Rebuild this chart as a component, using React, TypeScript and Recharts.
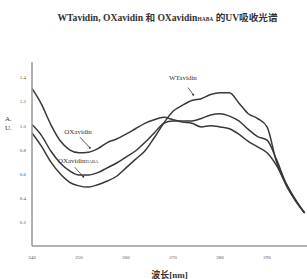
import React from 'react';
import { LineChart, Line, XAxis, YAxis, ReferenceLine, ReferenceDot, Label } from 'recharts';

const wavelengths = [240,242,244,246,248,250,252,254,256,258,260,262,264,266,268,270,272,274,276,278,280,282,284,286,288,290,292,294,296,298];
const wtAvidin = [0.94,0.83,0.70,0.60,0.53,0.50,0.49,0.51,0.54,0.58,0.65,0.72,0.79,0.90,1.02,1.12,1.17,1.21,1.225,1.26,1.275,1.275,1.19,1.10,1.06,0.99,0.70,0.51,0.38,0.275];
const oxAvidinHaba = [1.01,0.92,0.79,0.69,0.625,0.59,0.59,0.61,0.65,0.69,0.74,0.79,0.86,0.94,1.02,1.04,1.04,1.04,1.06,1.09,1.10,1.08,1.04,0.97,0.91,0.88,0.72,0.525,0.39,0.275];
const oxAvidin = [1.31,1.18,1.01,0.875,0.80,0.775,0.78,0.81,0.86,0.89,0.93,0.975,1.02,1.05,1.07,1.05,1.03,1.02,0.99,1.0,0.99,0.975,0.93,0.87,0.825,0.775,0.67,0.52,0.38,0.275];
const xTicks = [240,250,260,270,280,290];
const yTicks = [0.2,0.4,0.6,0.8,1.0,1.2,1.4];

const data = wavelengths.map((nm, i) => ({ nm, wt: wtAvidin[i], oxh: oxAvidinHaba[i], ox: oxAvidin[i] }));

const LINE = '#383838';
const textStyle = { fontFamily: '"Liberation Serif", "Noto Sans CJK SC", serif' };

const annot = (text: React.ReactNode) => (props: any) => {
  const { viewBox } = props;
  const cx = viewBox.x + (viewBox.width || 0) / 2;
  const cy = viewBox.y + (viewBox.height || 0) / 2;
  return (
    <text x={cx} y={cy} textAnchor="middle" dominantBaseline="central" fontSize={7} fill="#333" style={textStyle}>
      {text}
    </text>
  );
};

export default function App() {
  return (
    <div style={{ position: 'absolute', left: 0, top: 0, width: 307, height: 279, background: '#fff' }}>
      <div style={{ position: 'absolute', left: 0, top: 10, width: 335, textAlign: 'center', fontSize: 9.6, fontWeight: 'bold', color: '#333', whiteSpace: 'nowrap', ...textStyle }}>
        WTavidin, OXavidin 和 OXavidin<span style={{ fontSize: 5.5 }}>HABA</span> 的UV吸收光谱
      </div>
      <div style={{ position: 'absolute', left: 5, top: 115, fontSize: 7, color: '#333', lineHeight: '9px', ...textStyle }}>
        A.<br />U.
      </div>
      <LineChart width={307} height={279} data={data} margin={{ top: 62, right: 0, left: 0, bottom: 0 }}>
        <XAxis
          dataKey="nm"
          type="number"
          domain={[240, 298.5]}
          ticks={xTicks}
          allowDataOverflow
          height={33}
          tickLine={false}
          tickSize={0}
          tickMargin={9}
          axisLine={{ stroke: '#999', strokeWidth: 1.5 }}
          tick={{ fontSize: 5, fill: '#555', ...textStyle }}
        >
          <Label value="波长[nm]" position="insideBottom" offset={1} style={{ fontSize: 9, fontWeight: 'bold', fill: '#333', ...textStyle }} />
        </XAxis>
        <YAxis
          type="number"
          domain={[0, 1.53]}
          ticks={yTicks}
          width={32}
          tickLine={false}
          tickSize={0}
          tickMargin={6}
          axisLine={{ stroke: '#999', strokeWidth: 1.5 }}
          tickFormatter={(v: number) => v.toFixed(1)}
          tick={{ fontSize: 5, fill: '#555', ...textStyle }}
        />
        <Line dataKey="ox" type="monotone" stroke={LINE} strokeWidth={1.5} dot={false} isAnimationActive={false} />
        <Line dataKey="oxh" type="monotone" stroke={LINE} strokeWidth={1.5} dot={false} isAnimationActive={false} />
        <Line dataKey="wt" type="monotone" stroke={LINE} strokeWidth={1.5} dot={false} isAnimationActive={false} />
        <ReferenceLine segment={[{ x: 250.2, y: 0.905 }, { x: 252.3, y: 0.817 }]} stroke="#333" strokeWidth={0.8} />
        <ReferenceLine segment={[{ x: 249.1, y: 0.655 }, { x: 250.9, y: 0.575 }]} stroke="#333" strokeWidth={0.8} />
        <ReferenceLine segment={[{ x: 273.2, y: 1.317 }, { x: 274.3, y: 1.258 }]} stroke="#333" strokeWidth={0.8} />
        <ReferenceDot x={252.3} y={0.817} r={1} fill="#333" stroke="none" />
        <ReferenceDot x={250.9} y={0.575} r={1} fill="#333" stroke="none" />
        <ReferenceDot x={274.3} y={1.258} r={1} fill="#333" stroke="none" />
        <ReferenceDot x={249.8} y={0.95} r={0} fill="none" stroke="none" label={annot('OXavidin')} />
        <ReferenceDot x={249.8} y={0.71} r={0} fill="none" stroke="none" label={annot(<>OXavidin<tspan fontSize={4.5}>HABA</tspan></>)} />
        <ReferenceDot x={272.1} y={1.40} r={0} fill="none" stroke="none" label={annot('WTavidin')} />
      </LineChart>
    </div>
  );
}
